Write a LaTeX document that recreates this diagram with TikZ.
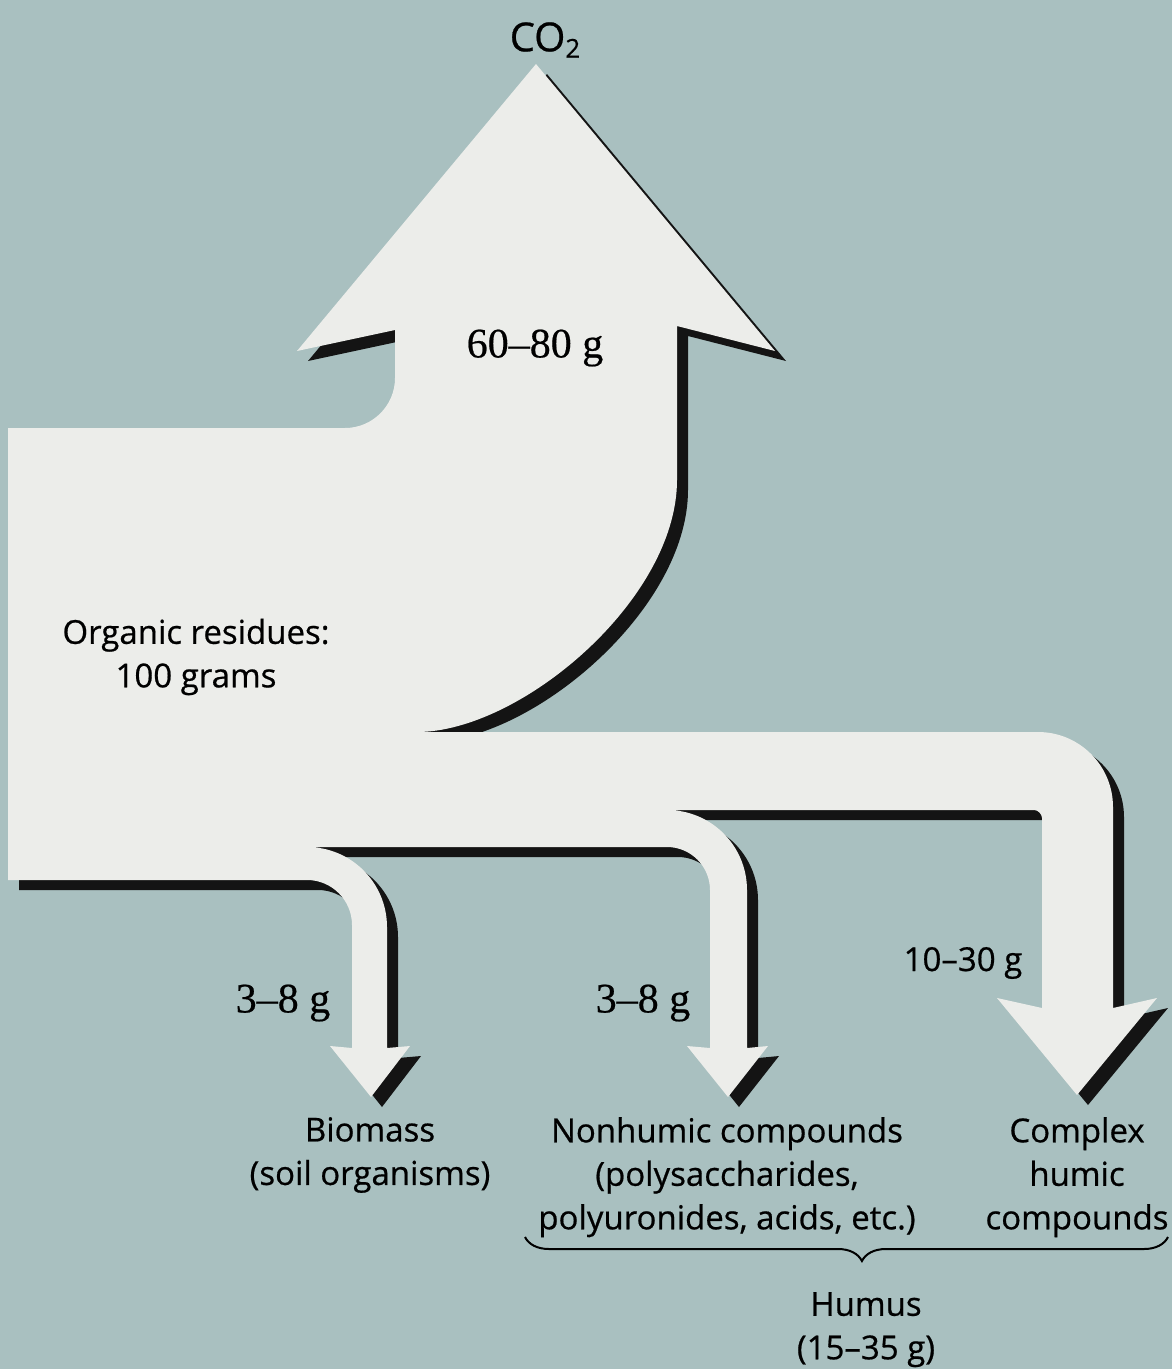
\documentclass[tikz,border=0pt]{standalone}
\usepackage{fontspec}
\setmainfont{Open Sans}[FakeBold=0.6]
\newfontfamily\serifnum{Liberation Serif}[FakeBold=0.5]
\usetikzlibrary{decorations.pathreplacing}
\definecolor{bgc}{HTML}{A9C0C0}
\definecolor{flowc}{HTML}{ECEDEA}
\definecolor{shadc}{HTML}{141414}
\begin{document}
\begin{tikzpicture}[x=1pt,y=-1pt,
  lbl/.style={font=\fontsize{33}{43.5}\selectfont, align=center, inner sep=0pt, text=black},
  num/.style={font=\serifnum\fontsize{42}{42}\selectfont, inner sep=0pt, text=black}]
\fill[bgc] (0,0) rectangle (1172,1369);
\useasboundingbox (0,0) rectangle (1172,1369);
\def\flowpath{(8,428) -- (345,428) .. controls (372.6,428) and (395,405.6) .. (395,378)
  -- (395,330) -- (297,351) -- (536,64) -- (775,351) -- (677,326) -- (677,480)
  .. controls (677,600) and (520,732) .. (417,732)
  -- (1038,732) .. controls (1079.4,732) and (1113,765.6) .. (1113,807)
  -- (1113,1008) -- (1157,998) -- (1077,1095) -- (997,998) -- (1042,1008)
  -- (1042,818) .. controls (1042,814.4) and (1038.4,810) .. (1034,810)
  -- (667,810) .. controls (711.2,810) and (747,845.8) .. (747,890)
  -- (747,1048) -- (768,1046) -- (728,1097) -- (687,1046) -- (710,1048)
  -- (710,890) .. controls (710,866.3) and (690.7,847) .. (667,847)
  -- (307,847) .. controls (351.2,847) and (387,882.8) .. (387,927)
  -- (387,1048) -- (410,1046) -- (371,1097) -- (330,1046) -- (352,1048)
  -- (352,925) .. controls (352,900.2) and (331.8,880) .. (307,880)
  -- (8,880) -- cycle}
\fill[shadc, shift={(11,10)}] \flowpath;
\fill[flowc] \flowpath;
\node[lbl, font=\fontsize{40}{40}\selectfont] (co2) at (545,40) {CO\raisebox{-0.3ex}{\fontsize{26}{26}\selectfont 2}};
\node[num] (q1) at (535,348) {60–80 g};
\node[lbl] (org) at (196,657) {Organic residues:\\100 grams};
\node[num] (q2) at (283,1003) {3–8 g};
\node[num] (q3) at (643,1003) {3–8 g};
\node[lbl] (q4) at (963,963) {10–30 g};
\node[lbl, anchor=north] (bio) at (370,1117) {Biomass\\(soil organisms)};
\node[lbl, anchor=north] (nonh) at (727,1117) {Nonhumic compounds\\(polysaccharides,\\polyuronides, acids, etc.)};
\node[lbl, anchor=north] (cx) at (1077,1117) {Complex\\humic\\compounds};
\draw[line width=2pt, decorate, decoration={brace, mirror, amplitude=24pt, aspect=0.524}] (525,1237) -- (1168,1237);
\node[lbl, anchor=north] (hum) at (866,1292) {Humus\\(15–35 g)};
\end{tikzpicture}
\end{document}
